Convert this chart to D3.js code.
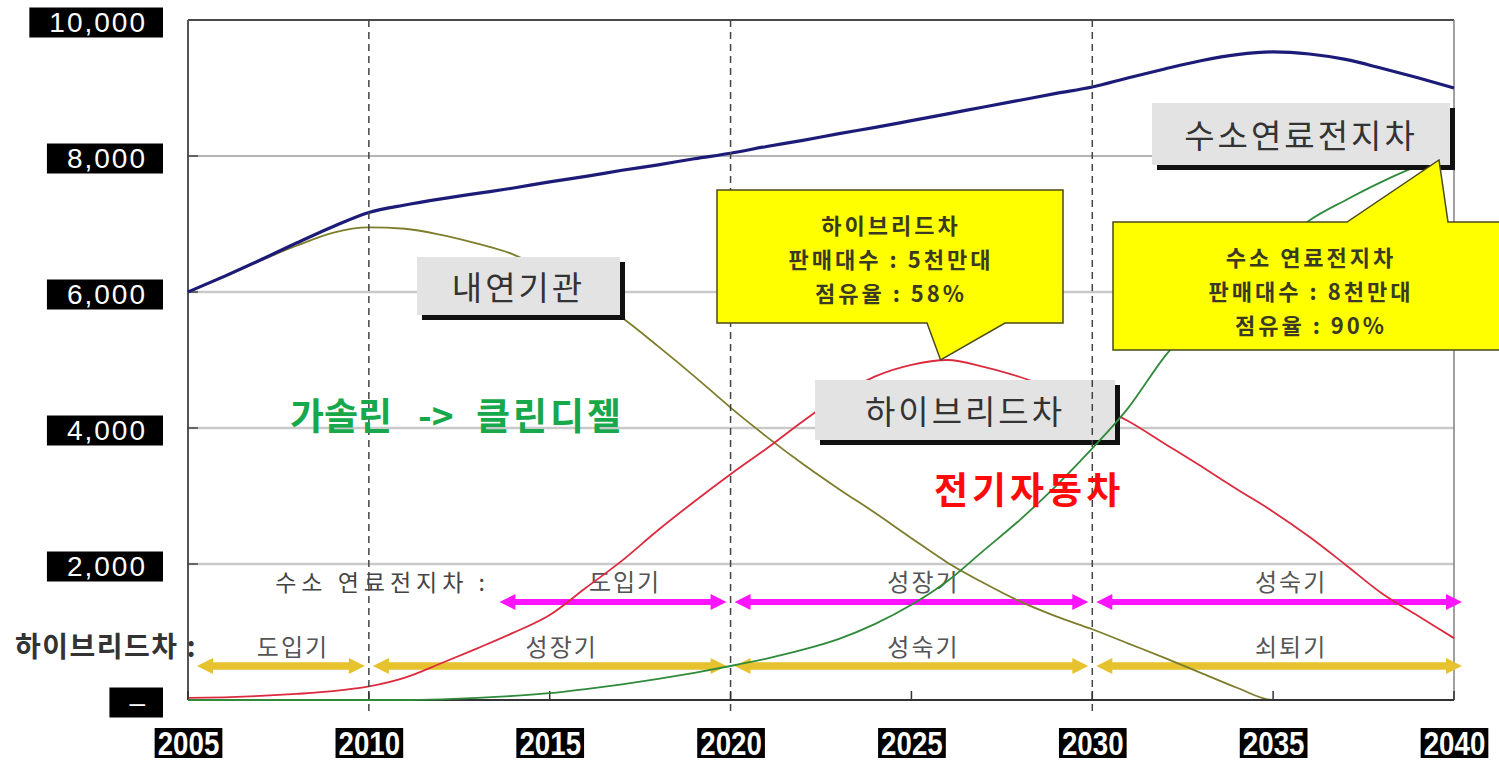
<!DOCTYPE html>
<html>
<head>
<meta charset="utf-8">
<script src="https://cdn.jsdelivr.net/npm/d3@7/dist/d3.min.js"></script>
<style>
  html, body { margin: 0; padding: 0; background: #ffffff; }
  svg { display: block; }
</style>
</head>
<body>
<svg id="chart" width="1499" height="763"></svg>
<script>
// ---- data (단위: 만대) ----
const years = [2005, 2006, 2007, 2008, 2009, 2010, 2011, 2012, 2013, 2014,
               2015, 2016, 2017, 2018, 2019, 2020, 2021, 2022, 2023, 2024,
               2025, 2026, 2027, 2028, 2029, 2030, 2031, 2032, 2033, 2034,
               2035, 2036, 2037, 2038, 2039, 2040];

// 전체 판매대수
const totalCars = [6000, 6230, 6470, 6720, 6960, 7170, 7280, 7370, 7450, 7530,
                   7620, 7700, 7790, 7870, 7960, 8040, 8140, 8230, 8330, 8420,
                   8520, 8620, 8720, 8820, 8920, 9015, 9150, 9280, 9400, 9490,
                   9530, 9500, 9420, 9290, 9150, 9000];

// 내연기관
const iceCars = [6000, 6220, 6460, 6680, 6870, 6950, 6930, 6840, 6710, 6550,
                 6280, 5970, 5620, 5200, 4760, 4300, 3870, 3470, 3100, 2750,
                 2380, 2020, 1720, 1450, 1230, 1040, 830, 620, 400, 180,
                 0, 0, 0, 0, 0, 0];

// 하이브리드차
const hybridCars = [30, 40, 60, 90, 130, 200, 330, 540, 760, 990,
                    1250, 1650, 2050, 2500, 2920, 3320, 3700, 4100, 4470, 4760,
                    4930, 5000, 4900, 4750, 4560, 4350, 4100, 3770, 3440, 3100,
                    2770, 2400, 1990, 1570, 1240, 910];

// 수소 연료전지차
const fuelCellCars = [0, 0, 0, 0, 0, 0, 0, 10, 30, 60,
                      100, 160, 230, 310, 400, 500, 610, 740, 900, 1120,
                      1400, 1750, 2200, 2650, 3150, 3700, 4300, 5050, 5650, 6150,
                      6600, 7050, 7350, 7620, 7850, 8000];

const yTickValues = [0, 2000, 4000, 6000, 8000, 10000];
const yTickLabels = ["–", "2,000", "4,000", "6,000", "8,000", "10,000"];
const xTickValues = [2005, 2010, 2015, 2020, 2025, 2030, 2035, 2040];
const phaseBoundaries = [2010, 2020, 2030];

const fuelCellPhases = [
  { name: "도입기", from: 2013.5, to: 2020 },
  { name: "성장기", from: 2020, to: 2030 },
  { name: "성숙기", from: 2030, to: 2040 }
];
const hybridPhases = [
  { name: "도입기", from: 2005, to: 2010 },
  { name: "성장기", from: 2010, to: 2020 },
  { name: "성숙기", from: 2020, to: 2030 },
  { name: "쇠퇴기", from: 2030, to: 2040 }
];

const hybridPeak = { year: 2026, value: 5000 };
const fuelCellPeak = { year: 2040, value: 8000 };
const hybridNote = ["하이브리드차", "판매대수 : 5천만대", "점유율 : 58%"];
const fuelCellNote = ["수소 연료전지차", "판매대수 : 8천만대", "점유율 : 90%"];

// ---- layout ----
const KR = "'Noto Sans CJK KR', 'Noto Sans', sans-serif";
const svg = d3.select("#chart");
const plotLeft = 188, plotRight = 1454, plotTop = 20, plotBottom = 700;

const x = d3.scaleLinear().domain([2005, 2040]).range([plotLeft, plotRight]);
const y = d3.scaleLinear().domain([0, 10000]).range([plotBottom, plotTop]);

// grid
const grid = svg.append("g");
grid.selectAll("line.grid")
  .data(yTickValues.filter(v => v > 0 && v < 10000))
  .join("line")
  .attr("x1", plotLeft).attr("x2", plotRight)
  .attr("y1", d => y(d)).attr("y2", d => y(d))
  .attr("stroke", d => d === 8000 ? "#6a6a6a" : "#c9c9c9")
  .attr("stroke-width", d => d === 8000 ? 1.2 : 2.5);

// frame: top, left, right
grid.append("line").attr("x1", plotLeft).attr("x2", plotRight).attr("y1", y(10000)).attr("y2", y(10000))
  .attr("stroke", "#4a4a4a").attr("stroke-width", 2);
grid.append("line").attr("x1", plotLeft).attr("x2", plotLeft).attr("y1", y(10000)).attr("y2", y(0))
  .attr("stroke", "#555").attr("stroke-width", 2);
grid.append("line").attr("x1", plotRight).attr("x2", plotRight).attr("y1", y(10000)).attr("y2", y(0))
  .attr("stroke", "#808080").attr("stroke-width", 1.5);
grid.selectAll("line.ytick")
  .data(yTickValues.filter(v => v > 0 && v < 10000))
  .join("line")
  .attr("x1", plotLeft).attr("x2", plotLeft + 10)
  .attr("y1", d => y(d)).attr("y2", d => y(d))
  .attr("stroke", "#444").attr("stroke-width", 1.5);

// ---- phase arrows ----
function drawArrow(g, x1, x2, yc, color, w, headLen, headHalf) {
  g.append("line")
    .attr("x1", x1 + headLen - 2).attr("x2", x2 - headLen + 2)
    .attr("y1", yc).attr("y2", yc)
    .attr("stroke", color).attr("stroke-width", w);
  g.append("path")
    .attr("d", `M${x1},${yc} L${x1 + headLen},${yc - headHalf} L${x1 + headLen},${yc + headHalf} Z`)
    .attr("fill", color);
  g.append("path")
    .attr("d", `M${x2},${yc} L${x2 - headLen},${yc - headHalf} L${x2 - headLen},${yc + headHalf} Z`)
    .attr("fill", color);
}

function phaseRow(phases, yc, color, w, labelY) {
  const g = svg.append("g");
  phases.forEach(p => {
    let x1 = x(p.from) + 4, x2 = x(p.to) - 4;
    if (p.from === 2005) x1 = x(p.from) + 9;
    if (p.to === 2040) x2 = x(p.to) + 8;
    drawArrow(g, x1, x2, yc, color, w, 16, 8);
    g.append("text")
      .attr("x", (x1 + x2) / 2 + 12).attr("y", labelY)
      .attr("text-anchor", "middle").attr("dominant-baseline", "central")
      .attr("font-family", KR).attr("font-size", 24).attr("letter-spacing", 2)
      .attr("fill", "#555").text(p.name);
  });
}
phaseRow(fuelCellPhases, 602, "#ff14ff", 6, 580);
phaseRow(hybridPhases, 666, "#e6c22e", 7.5, 645);

svg.append("text").attr("x", 490).attr("y", 581)
  .attr("text-anchor", "end").attr("dominant-baseline", "central")
  .attr("font-family", KR).attr("font-size", 23).attr("letter-spacing", 5)
  .attr("fill", "#444").text("수소 연료전지차 :");
svg.append("text").attr("x", 15).attr("y", 645)
  .attr("dominant-baseline", "central")
  .attr("font-family", KR).attr("font-size", 28).attr("font-weight", 700).attr("letter-spacing", 1.5)
  .attr("fill", "#333").text("하이브리드차 :");

// ---- series lines ----
const line = values => d3.line()
  .x((d, i) => x(years[i]))
  .y(d => y(d))
  .curve(d3.curveMonotoneX)(values);

const lines = svg.append("g").attr("fill", "none");
lines.append("path").attr("d", line(iceCars)).attr("stroke", "#7d7d2c").attr("stroke-width", 1.8);
lines.append("path").attr("d", line(totalCars)).attr("stroke", "#1c1c78").attr("stroke-width", 3.2);
lines.append("path").attr("d", line(hybridCars)).attr("stroke", "#dc2a3e").attr("stroke-width", 1.8);

// gray name boxes with black drop edge
function nameBox(x0, y0, w, h, label) {
  const g = svg.append("g");
  g.append("rect").attr("x", x0 + 5).attr("y", y0 + 5).attr("width", w).attr("height", h).attr("fill", "#111");
  g.append("rect").attr("x", x0).attr("y", y0).attr("width", w).attr("height", h).attr("fill", "#e3e3e3");
  g.append("text")
    .attr("x", x0 + w / 2).attr("y", y0 + h / 2)
    .attr("text-anchor", "middle").attr("dominant-baseline", "central")
    .attr("font-family", KR).attr("font-size", 33).attr("letter-spacing", 3)
    .attr("fill", "#333").text(label);
}
nameBox(417, 257, 203, 58, "내연기관");
nameBox(815, 380, 300, 60, "하이브리드차");

// phase boundaries
svg.append("g").selectAll("line")
  .data(phaseBoundaries)
  .join("line")
  .attr("x1", d => x(d)).attr("x2", d => x(d))
  .attr("y1", y(10000)).attr("y2", y(0) + 15)
  .attr("stroke", "#444").attr("stroke-width", 1.5)
  .attr("stroke-dasharray", "7,5");

// bottom axis line and ticks
svg.append("line").attr("x1", plotLeft).attr("x2", plotRight).attr("y1", y(0)).attr("y2", y(0))
  .attr("stroke", "#333").attr("stroke-width", 2);
svg.append("g").selectAll("line")
  .data(xTickValues)
  .join("line")
  .attr("x1", d => x(d)).attr("x2", d => x(d))
  .attr("y1", y(0)).attr("y2", y(0) - 9)
  .attr("stroke", "#333").attr("stroke-width", 1.5);

// fuel-cell line sits above the hybrid label box
svg.append("path").attr("d", line(fuelCellCars)).attr("fill", "none")
  .attr("stroke", "#2f8a3a").attr("stroke-width", 1.8);

nameBox(1152, 103, 298, 62, "수소연료전지차");

// ---- callouts ----
function callout(d, textLines, cx, firstLine) {
  const g = svg.append("g");
  g.append("path").attr("d", d).attr("fill", "#ffff00")
    .attr("stroke", "#4a4a1a").attr("stroke-width", 1.5);
  textLines.forEach((t, i) => {
    g.append("text")
      .attr("x", cx).attr("y", firstLine + i * 34)
      .attr("text-anchor", "middle").attr("dominant-baseline", "central")
      .attr("font-family", KR).attr("font-size", 22).attr("font-weight", 700)
      .attr("letter-spacing", 3)
      .attr("fill", "#3a3a22").text(t);
  });
}
const tip1 = [x(hybridPeak.year) - 7, y(hybridPeak.value)];
callout(`M717,190 H1063 V323 H1005 L${tip1[0]},${tip1[1]} L927,323 H717 Z`,
        hybridNote, 891, 224);
const tip2 = [x(fuelCellPeak.year) - 15, y(fuelCellPeak.value) + 4];
callout(`M1113,222 H1347 L${tip2[0]},${tip2[1]} L1448,222 H1510 V350 H1113 Z`,
        fuelCellNote, 1311, 256);

// ---- annotations ----
const fuelNote = svg.append("text").attr("y", 414)
  .attr("dominant-baseline", "central")
  .attr("font-family", KR).attr("font-size", 37).attr("font-weight", 700)
  .attr("fill", "#16a84b");
fuelNote.append("tspan").attr("x", 290).text("가솔린");
fuelNote.append("tspan").attr("x", 418).text("->");
fuelNote.append("tspan").attr("x", 476).attr("letter-spacing", 3).text("클린디젤");

svg.append("text").attr("x", 934).attr("y", 488)
  .attr("dominant-baseline", "central")
  .attr("font-family", KR).attr("font-size", 37).attr("font-weight", 700)
  .attr("letter-spacing", 4)
  .attr("fill", "#ff0a0a").text("전기자동차");

// ---- axes with boxed labels ----
const yAxis = svg.append("g")
  .attr("transform", `translate(${plotLeft},0)`)
  .call(d3.axisLeft(y).tickValues(yTickValues).tickFormat((d, i) => yTickLabels[i])
        .tickSize(0).tickPadding(43));
yAxis.select(".domain").remove();
yAxis.selectAll(".tick text")
  .attr("font-family", "'Liberation Sans', Arial, sans-serif")
  .attr("font-size", 28).attr("letter-spacing", 2)
  .attr("fill", "#ffffff").attr("dy", null).attr("y", 2)
  .attr("dominant-baseline", "central");
yAxis.selectAll(".tick").each(function () {
  const t = d3.select(this).select("text");
  const b = t.node().getBBox();
  d3.select(this).insert("rect", "text")
    .attr("x", -25 - b.width - 36).attr("y", 2 - 15)
    .attr("width", b.width + 36).attr("height", 30)
    .attr("fill", "#000");
  t.attr("x", -25 - 18 + 2);
});

const xSquash = 0.84;
const xAxis = svg.append("g")
  .attr("transform", `translate(0,${plotBottom})`)
  .call(d3.axisBottom(x).tickValues(xTickValues).tickFormat(d3.format("d"))
        .tickSize(0));
xAxis.select(".domain").remove();
xAxis.selectAll(".tick text")
  .attr("font-family", "'Liberation Sans', Arial, sans-serif")
  .attr("font-size", 33).attr("font-weight", 700)
  .attr("fill", "#ffffff").attr("dy", null).attr("y", 43)
  .attr("dominant-baseline", "central")
  .attr("transform", `scale(${xSquash},1)`);
xAxis.selectAll(".tick").each(function () {
  const t = d3.select(this).select("text");
  const w = t.node().getBBox().width * xSquash;
  d3.select(this).insert("rect", "text")
    .attr("x", -w / 2 - 3).attr("y", 28)
    .attr("width", w + 6).attr("height", 30)
    .attr("fill", "#000");
});
</script>
</body>
</html>
